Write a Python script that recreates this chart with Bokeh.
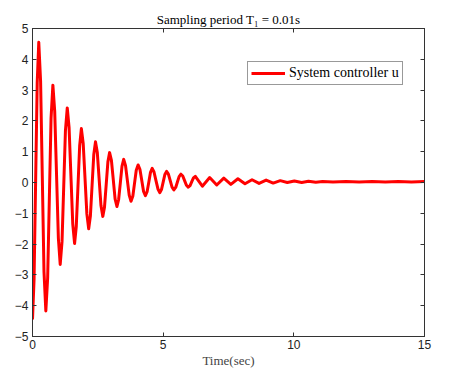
from bokeh.plotting import figure
from bokeh.models import LinearAxis, FixedTicker, Range1d, CustomJSTickFormatter
from bokeh.embed import file_html
from bokeh.resources import INLINE

# Controller signal u(t): points (extrema, crossings, flanks)
time_s = [0.0, 0.06, 0.12, 0.18, 0.24,
          0.31, 0.375, 0.44, 0.51,
          0.58, 0.645, 0.71, 0.78,
          0.85, 0.92, 0.99, 1.06,
          1.13, 1.195, 1.26, 1.33,
          1.40, 1.47, 1.54, 1.61,
          1.675, 1.74, 1.805, 1.87,
          1.94, 2.01, 2.08, 2.15,
          2.215, 2.28, 2.345, 2.41,
          2.48, 2.55, 2.62, 2.69,
          2.755, 2.82, 2.885, 2.95,
          3.02, 3.09, 3.16, 3.23,
          3.295, 3.36, 3.425, 3.49,
          3.56, 3.63, 3.70, 3.77,
          3.84, 3.905, 3.97, 4.04,
          4.11, 4.18, 4.25, 4.32,
          4.385, 4.45, 4.515, 4.58,
          4.65, 4.725, 4.80, 4.87,
          4.935, 5.0, 5.065, 5.13,
          5.20, 5.27, 5.34, 5.41,
          5.48, 5.545, 5.61, 5.68,
          5.75, 5.82, 5.89, 5.96,
          6.03, 6.095, 6.16, 6.23,
          6.50, 6.78, 7.05, 7.32, 7.59, 7.86, 8.13, 8.40, 8.67, 8.94, 9.21, 9.48,
          9.75, 10.02, 10.30, 10.56, 10.84, 11.10, 11.5, 12.0, 12.5, 13.0, 13.5,
          14.0, 14.5, 15.0]
u_vals = [-4.45, -3.14, 0.05, 3.24, 4.55,
          3.28, 0.19, -2.90, -4.17,
          -3.10, -0.50, 2.09, 3.16,
          2.31, 0.25, -1.81, -2.66,
          -1.92, -0.12, 1.68, 2.42,
          1.78, 0.22, -1.34, -1.98,
          -1.43, -0.12, 1.20, 1.75,
          1.27, 0.13, -1.02, -1.50,
          -1.09, -0.09, 0.91, 1.32,
          0.97, 0.11, -0.75, -1.10,
          -0.80, -0.07, 0.67, 0.97,
          0.72, 0.10, -0.53, -0.78,
          -0.56, -0.02, 0.53, 0.75,
          0.55, 0.07, -0.41, -0.61,
          -0.44, -0.02, 0.40, 0.57,
          0.43, 0.07, -0.29, -0.43,
          -0.30, 0.01, 0.33, 0.46,
          0.34, 0.06, -0.21, -0.33,
          -0.23, 0.01, 0.26, 0.36,
          0.27, 0.06, -0.15, -0.24,
          -0.16, 0.015, 0.19, 0.27,
          0.21, 0.06, -0.09, -0.15,
          -0.10, 0.025, 0.15, 0.20,
          -0.12, 0.16, -0.08, 0.14, -0.06, 0.12, -0.04, 0.09, -0.03, 0.08, -0.02, 0.06,
          0.0, 0.05, 0.0, 0.04, 0.01, 0.03, 0.02, 0.03, 0.02, 0.03, 0.02,
          0.03, 0.02, 0.03]

x_ticks = [0, 5, 10, 15]
y_ticks = [-5, -4, -3, -2, -1, 0, 1, 2, 3, 4, 5]

p = figure(width=449, height=370, output_backend="svg", toolbar_location=None,
           x_range=Range1d(0, 15), y_range=Range1d(-5, 5),
           min_border_left=32, min_border_right=25, min_border_top=28,
           min_border_bottom=34, background_fill_color="white",
           border_fill_color="white")

p.title.text = "Sampling period T\u2081 = 0.01s"
p.title.align = "center"
p.title.text_font = "Liberation Serif"
p.title.text_font_size = "13px"
p.title.text_font_style = "normal"
p.title.text_color = "black"
p.title.offset = 0
p.title.standoff = 4

p.grid.visible = False
p.outline_line_color = "#333333"
p.outline_line_width = 1

line = p.line(time_s, u_vals, line_color="#ff0000", line_width=3,
              line_join="round", legend_label="System controller u")

for ax in [p.xaxis[0], p.yaxis[0]]:
    ax.major_tick_in = 4
    ax.major_tick_out = 0
    ax.minor_tick_in = 0
    ax.minor_tick_out = 0
    ax.axis_line_color = "#333333"
    ax.major_tick_line_color = "#333333"
    ax.major_label_text_font = "Liberation Sans"
    ax.major_label_text_font_size = "12px"
    ax.major_label_text_color = "#222222"

p.xaxis[0].ticker = FixedTicker(ticks=x_ticks)
p.yaxis[0].ticker = FixedTicker(ticks=y_ticks)
p.xaxis[0].major_label_standoff = 3
p.yaxis[0].major_label_standoff = 4
p.xaxis[0].axis_label = "Time(sec)"
p.xaxis[0].axis_label_text_font = "Liberation Serif"
p.xaxis[0].axis_label_text_font_size = "13px"
p.xaxis[0].axis_label_text_font_style = "normal"
p.xaxis[0].axis_label_standoff = 1

blank = CustomJSTickFormatter(code="return ''")
top_ax = LinearAxis(ticker=FixedTicker(ticks=x_ticks), formatter=blank,
                    major_tick_in=4, major_tick_out=0, minor_tick_in=0, minor_tick_out=0,
                    axis_line_color="#333333", major_tick_line_color="#333333",
                    major_label_standoff=0)
right_ax = LinearAxis(ticker=FixedTicker(ticks=y_ticks), formatter=blank,
                      major_tick_in=4, major_tick_out=0, minor_tick_in=0, minor_tick_out=0,
                      axis_line_color="#333333", major_tick_line_color="#333333",
                      major_label_standoff=0)
p.add_layout(top_ax, "above")
p.add_layout(right_ax, "right")

lg = p.legend[0]
lg.location = (215, 251)
lg.margin = 0
lg.padding = 3
lg.spacing = 0
lg.glyph_width = 34
lg.glyph_height = 12
lg.label_standoff = 4
lg.label_height = 14
lg.label_text_font = "Liberation Serif"
lg.label_text_font_size = "14px"
lg.label_text_color = "black"
lg.border_line_color = "#333333"
lg.border_line_width = 1
lg.background_fill_alpha = 1

open("out.html", "w").write(file_html(p, INLINE))
